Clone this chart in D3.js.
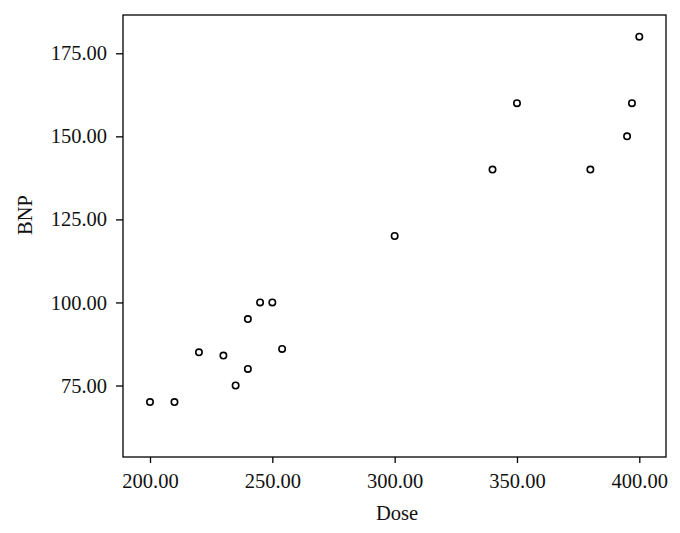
<!DOCTYPE html>
<html><head><meta charset="utf-8">
<script src="https://cdn.jsdelivr.net/npm/d3@7"></script>
<style>body{margin:0;background:#fff}svg{display:block}</style>
</head><body>
<script>
const dose = [200, 210, 220, 230, 235, 240, 240, 245, 250, 254, 300, 340, 350, 380, 395, 397, 400];
const bnp  = [70, 70, 85, 84, 75, 80, 95, 100, 100, 86, 120, 140, 160, 140, 150, 160, 180];
const xTicks = [200, 250, 300, 350, 400];
const yTicks = [75, 100, 125, 150, 175];
const xLabel = "Dose", yLabel = "BNP";

const W = 680, H = 533;
const L = 123, R = 666, T = 15, B = 457;
const svg = d3.select("body").append("svg").attr("width", W).attr("height", H);
const font = "'Liberation Serif', 'DejaVu Serif', serif";

const x = d3.scaleLinear().domain([200, 400]).range([150, 639.3]);
x.domain([x.invert(L), x.invert(R)]).range([L, R]);
const y = d3.scaleLinear().domain([75, 175]).range([385.5, 53.3]);
y.domain([y.invert(B), y.invert(T)]).range([B, T]);

svg.append("rect").attr("x", L).attr("y", T).attr("width", R - L).attr("height", B - T)
  .attr("fill", "none").attr("stroke", "#000").attr("stroke-width", 1.3);

const fmt = d3.format(".2f");
const xa = svg.append("g").attr("transform", `translate(0,${B})`)
  .call(d3.axisBottom(x).tickValues(xTicks).tickFormat(fmt).tickSize(6).tickPadding(10).tickSizeOuter(0));
const ya = svg.append("g").attr("transform", `translate(${L},0)`)
  .call(d3.axisLeft(y).tickValues(yTicks).tickFormat(fmt).tickSize(7).tickPadding(9).tickSizeOuter(0));
[xa, ya].forEach(g => {
  g.select(".domain").remove();
  g.selectAll("line").attr("stroke", "#000").attr("stroke-width", 1.3);
  g.selectAll("text").attr("font-family", font).attr("font-size", 20.5).attr("fill", "#111");
});

svg.append("text").attr("x", 397).attr("y", 520).attr("text-anchor", "middle")
  .attr("font-family", font).attr("font-size", 20.5).attr("fill", "#111").text(xLabel);
svg.append("text").attr("transform", "translate(32,215) rotate(-90)").attr("text-anchor", "middle")
  .attr("font-family", font).attr("font-size", 20.5).attr("fill", "#111").text(yLabel);

svg.append("g").selectAll("circle").data(dose.map((d, i) => [d, bnp[i]])).join("circle")
  .attr("cx", d => x(d[0])).attr("cy", d => y(d[1])).attr("r", 3.2)
  .attr("fill", "#fff").attr("stroke", "#000").attr("stroke-width", 1.6);
</script>
</body></html>
